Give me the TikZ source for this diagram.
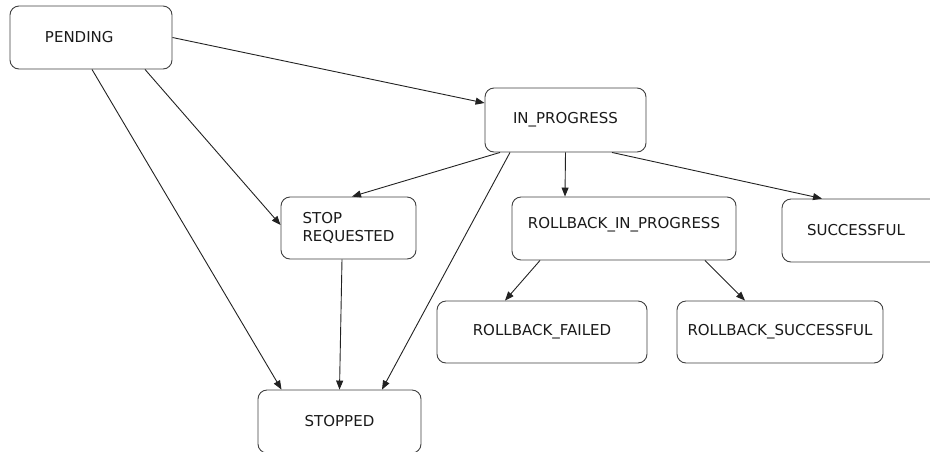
\documentclass[tikz,border=0pt]{standalone}
\usepackage{fontspec}
\setmainfont{DejaVu Sans}
\usetikzlibrary{arrows.meta}
\definecolor{boxline}{HTML}{404040}
\definecolor{edgeline}{HTML}{222222}
\definecolor{txt}{HTML}{1a1a1a}
\tikzset{
  state/.style={draw=boxline, line width=0.9pt, rounded corners=9pt, fill=white,
    font=\fontsize{15}{18.5}\selectfont, text=txt, inner sep=0pt, align=center},
  conn/.style={draw=edgeline, line width=0.9pt, -{Triangle[length=9pt,width=7pt]}},
}
\begin{document}
\begin{tikzpicture}[x=1pt,y=-1pt]
\useasboundingbox (0,0) rectangle (930,451);
\node[state, minimum width=162pt, minimum height=63pt, text width=92pt, inner xsep=35pt, align=left] (pending) at (91,37.5) {PENDING};
\node[state, minimum width=161pt, minimum height=64pt] (inprog) at (565.5,120) {IN\_PROGRESS};
\node[state, minimum width=135pt, minimum height=62pt, align=left] (stopreq) at (348.5,228) {STOP\\REQUESTED};
\node[state, minimum width=224pt, minimum height=63pt, text height=5pt, text depth=6pt] (rip) at (624,228.5) {ROLLBACK\_IN\_PROGRESS};
\node[state, minimum width=162pt, minimum height=63pt, text width=112pt, inner xsep=25pt, align=left] (succ) at (863,230.5) {SUCCESSFUL};
\node[state, minimum width=210pt, minimum height=62pt] (rfail) at (542,332) {ROLLBACK\_FAILED};
\node[state, minimum width=206pt, minimum height=62pt] (rsucc) at (780,332) {ROLLBACK\_SUCCESSFUL};
\node[state, minimum width=163pt, minimum height=63pt] (stopped) at (339.5,421.5) {STOPPED};

\draw[conn] (pending.east) -- ([yshift=17pt]inprog.west);
\draw[conn] ([xshift=54pt]pending.south) -- ([yshift=3pt]stopreq.west);
\draw[conn] ([xshift=1pt]pending.south) -- ([xshift=-58pt]stopped.north);
\draw[conn] ([xshift=-6.5pt]stopreq.south) -- (stopped.north);
\draw[conn] ([xshift=-55.5pt]inprog.south) -- ([xshift=42.5pt]stopped.north);
\draw[conn] ([xshift=-65.5pt]inprog.south) -- ([xshift=3.5pt]stopreq.north);
\draw[conn] (inprog.south) -- ([xshift=-59pt]rip.north);
\draw[conn] ([xshift=46.5pt]inprog.south) -- ([xshift=-41pt]succ.north);
\draw[conn] ([xshift=-84pt]rip.south) -- ([xshift=-37pt]rfail.north);
\draw[conn] ([xshift=81pt]rip.south) -- ([xshift=-35pt]rsucc.north);
\end{tikzpicture}
\end{document}
